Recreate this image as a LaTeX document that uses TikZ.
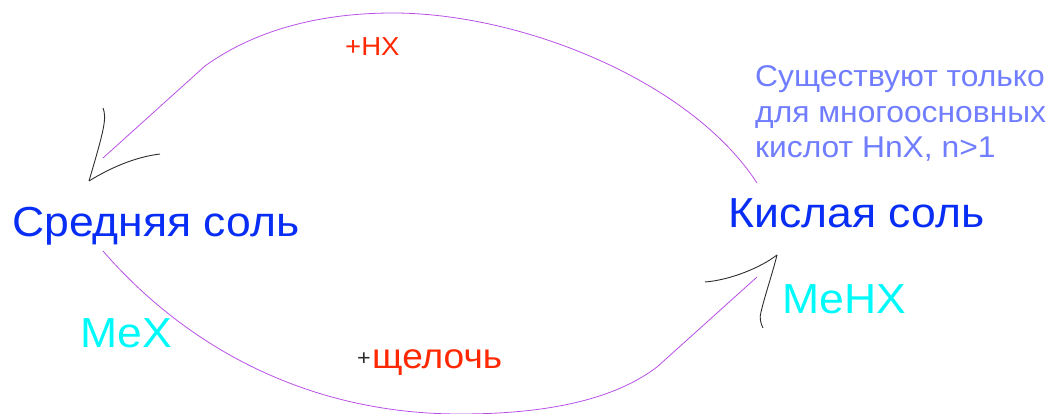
\documentclass[tikz,border=0pt]{standalone}
\usepackage{fontspec}
\setmainfont[FakeStretch=1.06]{Liberation Sans}
\usepackage{xcolor}
\usetikzlibrary{positioning}

\definecolor{saltblue}{RGB}{8,45,245}
\definecolor{formcyan}{RGB}{0,250,250}
\definecolor{reagred}{RGB}{255,40,0}
\definecolor{noteblue}{RGB}{112,125,255}
\definecolor{cyclepurple}{RGB}{185,80,230}
\definecolor{penblack}{RGB}{45,45,45}

\begin{document}
\begin{tikzpicture}[
  x=1pt, y=-1pt,
  salt/.style={
    inner sep=0pt,
    anchor=base west,
    text=saltblue,
    font=\fontsize{42}{48}\selectfont
  },
  formula/.style={
    inner sep=0pt,
    anchor=base west,
    text=formcyan,
    font=\fontsize{42}{48}\selectfont
  },
  reagent/.style={
    inner sep=0pt,
    anchor=base west,
    text=reagred,
    font=\fontsize{26}{30}\selectfont
  },
  note/.style={
    inner sep=0pt,
    anchor=base west,
    align=left,
    text=noteblue,
    font=\fontsize{30}{35.5}\selectfont
  },
  cycle/.style={cyclepurple,line width=0.8pt},
  pen/.style={penblack,line width=0.9pt}
]
  \useasboundingbox (0,0) rectangle (1059,414);

  % salts
  \node[salt] (mid) at (12,236) {Средняя соль};
  \node[salt] (acid) at (728,227) {Кислая соль};
  \node[formula] (mex) at (80,347) {MeX};
  \node[formula] (mehx) at (782,313) {MeHX};

  % reagents
  \node[reagent] (hx) at (345,56) {+HX};
  \node[reagent,font=\fontsize{35}{40}\selectfont] (alk) at (372,368) {щелочь};
  \node[inner sep=0pt,text=penblack,font=\fontsize{22}{26}\selectfont,
        left=1pt of alk.base west,anchor=base east,yshift=3pt] (plus) {+};

  \node[note] (cond) at (755,158) {Существуют только\\для многоосновных\\кислот HnX, n>1};

  % cycle ends
  \coordinate (upA) at (757,183);
  \coordinate (upB) at (103,158);
  \coordinate (loA) at (103,251);
  \coordinate (loB) at (757,277);

  \draw[cycle] (upA) .. controls (690,80) and (520,13) .. (393,13)
    .. controls (320,13) and (255,30) .. (205,66) -- (upB);
  \draw[cycle] (loA) .. controls (180,340) and (300,414) .. (460,414)
    .. controls (560,414) and (620,395) .. (657,367) -- (loB);

  % hand drawn heads
  \coordinate (tipL) at (89,181);
  \coordinate (tipR) at (777,255);
  \draw[pen] (103,108) .. controls (107,118) and (104,130) .. (tipL);
  \draw[pen] (tipL) .. controls (110,168) and (135,157) .. (160,154);
  \draw[pen] (705,282) .. controls (730,280) and (760,268) .. (tipR);
  \draw[pen] (tipR) .. controls (772,275) and (765,295) .. (761,312)
    .. controls (759,318) and (761,324) .. (763,328);
\end{tikzpicture}
\end{document}
